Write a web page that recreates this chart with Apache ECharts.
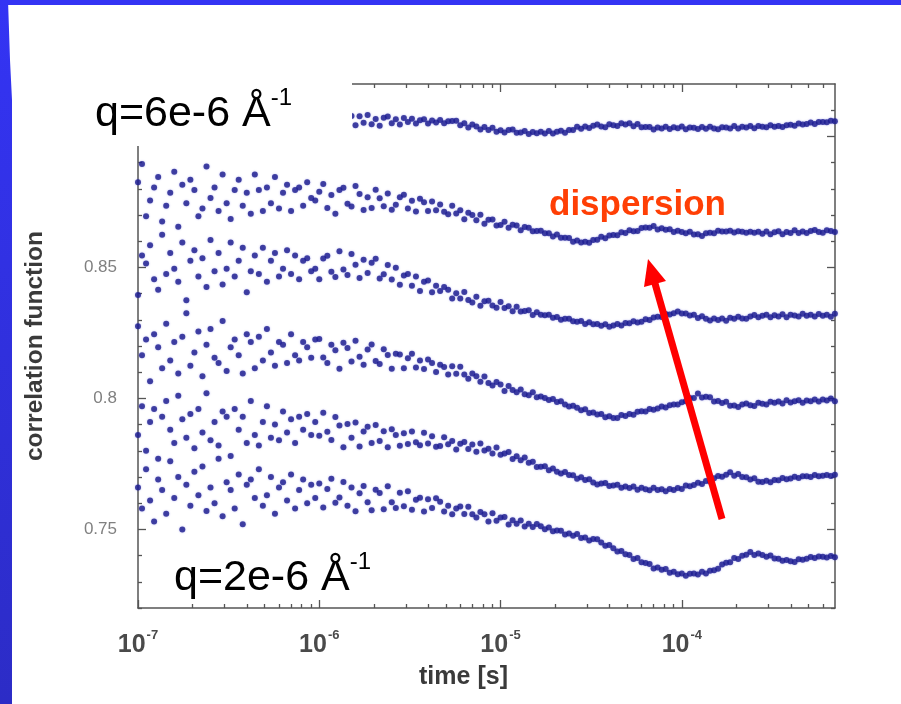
<!DOCTYPE html>
<html><head><meta charset="utf-8">
<script src="https://cdn.jsdelivr.net/npm/echarts@6/dist/echarts.min.js"></script>
<style>html,body{margin:0;padding:0;background:#fff}#c{width:901px;height:704px}</style>
</head><body><div id="c"></div>
<script>
// lag times (s)
const times = [
1e-7,1.052e-7,1.108e-7,1.166e-7,1.227e-7,1.292e-7,1.359e-7,1.431e-7,1.506e-7,1.585e-7,1.668e-7,1.756e-7,1.848e-7,1.945e-7,2.047e-7,2.154e-7,2.268e-7,2.387e-7,2.512e-7,2.644e-7,2.783e-7,2.929e-7,3.083e-7,3.245e-7,3.415e-7,3.594e-7,3.783e-7,3.981e-7,4.19e-7,4.41e-7,4.642e-7,4.885e-7,5.142e-7,5.412e-7,5.696e-7,5.995e-7,6.31e-7,6.641e-7,6.989e-7,7.356e-7,7.743e-7,8.149e-7,8.577e-7,9.027e-7,9.501e-7,
1e-6,1.052e-6,1.108e-6,1.166e-6,1.227e-6,1.292e-6,1.359e-6,1.431e-6,1.506e-6,1.585e-6,1.668e-6,1.756e-6,1.848e-6,1.945e-6,2.047e-6,2.154e-6,2.268e-6,2.387e-6,2.512e-6,2.644e-6,2.783e-6,2.929e-6,3.083e-6,3.245e-6,3.415e-6,3.594e-6,3.783e-6,3.981e-6,4.19e-6,4.41e-6,4.642e-6,4.885e-6,5.142e-6,5.412e-6,5.696e-6,5.995e-6,6.31e-6,6.641e-6,6.989e-6,7.356e-6,7.743e-6,8.149e-6,8.577e-6,9.027e-6,9.501e-6,
1e-5,1.052e-5,1.108e-5,1.166e-5,1.227e-5,1.292e-5,1.359e-5,1.431e-5,1.506e-5,1.585e-5,1.668e-5,1.756e-5,1.848e-5,1.945e-5,2.047e-5,2.154e-5,2.268e-5,2.387e-5,2.512e-5,2.644e-5,2.783e-5,2.929e-5,3.083e-5,3.245e-5,3.415e-5,3.594e-5,3.783e-5,3.981e-5,4.19e-5,4.41e-5,4.642e-5,4.885e-5,5.142e-5,5.412e-5,5.696e-5,5.995e-5,6.31e-5,6.641e-5,6.989e-5,7.356e-5,7.743e-5,8.149e-5,8.577e-5,9.027e-5,9.501e-5,
1e-4,1.052e-4,1.108e-4,1.166e-4,1.227e-4,1.292e-4,1.359e-4,1.431e-4,1.506e-4,1.585e-4,1.668e-4,1.756e-4,1.848e-4,1.945e-4,2.047e-4,2.154e-4,2.268e-4,2.387e-4,2.512e-4,2.644e-4,2.783e-4,2.929e-4,3.083e-4,3.245e-4,3.415e-4,3.594e-4,3.783e-4,3.981e-4,4.19e-4,4.41e-4,4.642e-4,4.885e-4,5.142e-4,5.412e-4,5.696e-4,5.995e-4,6.31e-4,6.641e-4,6.989e-4
];
// correlation function, q = 6e-6 (top) ... q = 2e-6 (bottom)
const g_q1 = [
.9077,.9050,.9100,.9060,.9033,.9087,.9073,.9043,.9110,.9063,
.9090,.9023,.9080,.9053,.9097,.9067,.9103,.9047,.9077,.9057,
.9113,.9040,.9083,.9073,.9050,.9093,.9030,.9080,.9087,.9063,
.9100,.9053,.9067,.9090,.9043,.9077,.9083,.9060,.9093,.9050,
.9073,.9087,.9057,.9080,.9063,.9088,.9043,.9078,.9097,.9051,
.9060,.9089,.9044,.9078,.9043,.9077,.9052,.9082,.9046,.9066,
.9041,.9071,.9076,.9050,.9065,.9045,.9070,.9055,.9067,.9049,
.9062,.9065,.9049,.9061,.9053,.9063,.9050,.9058,.9059,.9060,
.9043,.9050,.9034,.9045,.9038,.9026,.9036,.9024,.9033,.9018,
.9023,.9015,.9024,.9026,.9014,.9015,.9021,.9009,.9017,.9012,
.9018,.9011,.9021,.9011,.9018,.9022,.9014,.9024,.9024,.9037,
.9029,.9038,.9032,.9041,.9045,.9038,.9035,.9046,.9043,.9040,
.9050,.9045,.9050,.9039,.9047,.9035,.9036,.9036,.9026,.9034,
.9030,.9037,.9028,.9035,.9031,.9038,.9027,.9034,.9033,.9028,
.9036,.9029,.9037,.9030,.9027,.9035,.9034,.9030,.9040,.9030,
.9037,.9034,.9040,.9031,.9040,.9037,.9035,.9043,.9037,.9040,
.9036,.9043,.9044,.9041,.9049,.9045,.9047,.9053,.9047,.9055,
.9055,.9054,.9060,.9058];
const g_q2 = [
.8825,.8895,.8695,.8755,.8805,.8845,.8675,.8735,.8785,.8865,
.8655,.8815,.8745,.8835,.8795,.8695,.8725,.8885,.8765,.8805,
.8715,.8855,.8745,.8685,.8795,.8835,.8735,.8785,.8705,.8855,
.8795,.8715,.8805,.8745,.8845,.8725,.8785,.8815,.8715,.8795,
.8805,.8735,.8825,.8765,.8755,.8789,.8818,.8727,.8776,.8705,
.8795,.8804,.8743,.8732,.8811,.8780,.8719,.8768,.8727,.8796,
.8764,.8733,.8782,.8720,.8739,.8768,.8777,.8725,.8754,.8713,
.8762,.8749,.8715,.8752,.8718,.8740,.8712,.8703,.8735,.8706,
.8718,.8684,.8709,.8700,.8680,.8701,.8667,.8682,.8683,.8660,
.8662,.8674,.8651,.8663,.8660,.8642,.8654,.8651,.8638,.8639,
.8640,.8630,.8630,.8618,.8626,.8613,.8613,.8612,.8598,.8603,
.8595,.8598,.8594,.8605,.8606,.8617,.8611,.8622,.8624,.8623,
.8634,.8631,.8642,.8638,.8639,.8650,.8652,.8651,.8658,.8645,
.8649,.8644,.8646,.8635,.8640,.8635,.8630,.8636,.8626,.8627,
.8620,.8630,.8632,.8630,.8640,.8637,.8637,.8640,.8633,.8638,
.8636,.8632,.8636,.8632,.8636,.8628,.8637,.8627,.8634,.8638,
.8627,.8635,.8631,.8642,.8631,.8637,.8631,.8639,.8643,.8635,
.8632,.8642,.8639,.8635];
const g_q3 = [
.8395,.8545,.8515,.8585,.8455,.8415,.8625,.8475,.8555,.8495,
.8445,.8595,.8375,.8525,.8565,.8465,.8535,.8425,.8605,.8485,
.8555,.8435,.8495,.8595,.8465,.8525,.8575,.8405,.8485,.8545,
.8475,.8575,.8445,.8525,.8555,.8465,.8495,.8565,.8475,.8545,
.8455,.8525,.8535,.8485,.8495,.8455,.8534,.8544,.8483,.8463,
.8562,.8492,.8471,.8551,.8510,.8460,.8529,.8479,.8518,.8533,
.8458,.8474,.8509,.8454,.8499,.8434,.8469,.8475,.8430,.8465,
.8410,.8445,.8450,.8405,.8430,.8410,.8425,.8415,.8381,.8401,
.8381,.8406,.8376,.8366,.8388,.8354,.8371,.8373,.8355,.8346,
.8368,.8345,.8352,.8333,.8350,.8332,.8334,.8336,.8318,.8329,
.8319,.8317,.8319,.8308,.8311,.8300,.8304,.8304,.8294,.8293,
.8295,.8284,.8291,.8283,.8284,.8277,.8283,.8273,.8278,.8284,
.8278,.8288,.8287,.8294,.8290,.8293,.8302,.8299,.8309,.8312,
.8311,.8322,.8320,.8325,.8332,.8324,.8324,.8316,.8319,.8307,
.8314,.8304,.8297,.8305,.8299,.8305,.8296,.8308,.8304,.8312,
.8305,.8304,.8313,.8318,.8310,.8315,.8319,.8310,.8317,.8313,
.8321,.8310,.8319,.8316,.8313,.8323,.8315,.8319,.8313,.8322,
.8315,.8319,.8312,.8323];
const g_q4 = [
.8275,.8165,.8225,.8065,.8245,.8195,.8115,.8285,.8145,.8215,
.8095,.8235,.8325,.8125,.8175,.8255,.8085,.8205,.8265,.8155,
.8135,.8295,.8105,.8195,.8225,.8165,.8095,.8245,.8215,.8115,
.8235,.8145,.8265,.8175,.8125,.8215,.8205,.8135,.8245,.8165,
.8145,.8215,.8195,.8155,.8225,.8227,.8156,.8135,.8205,.8184,
.8113,.8212,.8192,.8141,.8220,.8159,.8128,.8187,.8206,.8143,
.8131,.8188,.8166,.8113,.8170,.8168,.8115,.8153,.8170,.8118,
.8145,.8112,.8148,.8135,.8101,.8128,.8120,.8091,.8123,.8094,
.8121,.8091,.8075,.8095,.8085,.8064,.8084,.8059,.8049,.8063,
.8053,.8028,.8047,.8032,.8023,.8034,.8016,.8012,.8023,.8004,
.8007,.8002,.7994,.7998,.7986,.7989,.7977,.7969,.7972,.7964,
.7955,.7959,.7944,.7946,.7939,.7940,.7928,.7932,.7925,.7925,
.7937,.7933,.7940,.7938,.7949,.7951,.7950,.7960,.7957,.7961,
.7969,.7965,.7974,.7977,.7977,.7985,.7989,.8002,.8002,.8019,
.8003,.8006,.8004,.7988,.7990,.7982,.7987,.7972,.7973,.7967,
.7977,.7981,.7974,.7971,.7983,.7980,.7977,.7987,.7983,.7988,
.7981,.7993,.7984,.7989,.7993,.7983,.7992,.7989,.7996,.7988,
.7996,.7992,.8000,.7989];
const g_q5 = [
.786,.797,.780,.791,.796,.777,.793,.799,.788,.783,
.801,.792,.785,.794,.781,.796,.787,.802,.784,.791,
.782,.795,.793,.778,.796,.788,.793,.783,.799,.786,
.782,.791,.797,.785,.790,.784,.795,.787,.792,.783,
.793,.788,.794,.786,.791,.7857,.7945,.7873,.7841,.7929,
.7897,.7814,.7902,.7850,.7908,.7816,.7874,.7892,.7830,.7898,
.7837,.7875,.7814,.7882,.7860,.7819,.7867,.7826,.7874,.7833,
.7821,.7869,.7828,.7856,.7815,.7818,.7852,.7825,.7837,.7805,
.7827,.7834,.7807,.7824,.7796,.7828,.7801,.7808,.7790,.7813,
.7785,.7790,.7795,.7769,.7779,.7764,.7774,.7754,.7758,.7738,
.7739,.7741,.7726,.7732,.7720,.7713,.7719,.7708,.7707,.7693,
.7699,.7689,.7691,.7679,.7671,.7675,.7677,.7666,.7668,.7670,
.7659,.7664,.7658,.7664,.7651,.7659,.7653,.7649,.7659,.7650,
.7653,.7646,.7654,.7650,.7658,.7654,.7668,.7665,.7669,.7678,
.7673,.7685,.7683,.7695,.7704,.7701,.7709,.7718,.7705,.7711,
.7700,.7699,.7690,.7695,.7682,.7681,.7686,.7680,.7689,.7688,
.7696,.7691,.7694,.7701,.7696,.7703,.7703,.7700,.7708,.7703,
.7705,.7708,.7704,.7709];
const g_q6 = [
.766,.758,.773,.761,.753,.769,.765,.756,.776,.762,
.770,.750,.767,.759,.772,.763,.774,.757,.766,.760,
.777,.755,.768,.765,.758,.771,.752,.767,.769,.762,
.773,.759,.763,.770,.756,.766,.768,.761,.771,.758,
.765,.769,.760,.767,.762,.7675,.7584,.7654,.7693,.7602,
.7622,.7681,.7590,.7660,.7569,.7638,.7666,.7604,.7573,.7651,
.7639,.7577,.7665,.7604,.7582,.7640,.7588,.7646,.7575,.7613,
.7621,.7568,.7615,.7582,.7619,.7606,.7568,.7590,.7558,.7580,
.7587,.7559,.7586,.7558,.7545,.7566,.7558,.7530,.7562,.7533,
.7545,.7547,.7519,.7535,.7522,.7534,.7511,.7522,.7509,.7521,
.7512,.7501,.7507,.7493,.7496,.7495,.7481,.7484,.7476,.7482,
.7467,.7469,.7458,.7463,.7462,.7450,.7438,.7440,.7428,.7416,
.7418,.7405,.7402,.7387,.7391,.7375,.7372,.7368,.7351,.7355,
.7346,.7349,.7335,.7338,.7329,.7332,.7323,.7331,.7332,.7328,
.7338,.7332,.7342,.7344,.7350,.7366,.7373,.7375,.7391,.7387,
.7399,.7403,.7414,.7402,.7408,.7402,.7396,.7400,.7389,.7388,
.7380,.7383,.7378,.7376,.7386,.7384,.7388,.7395,.7391,.7397,
.7396,.7393,.7398,.7394];

const xMajorTicks = [1e-7, 1e-6, 1e-5, 1e-4];
const xMinorTicks = [2e-7,3e-7,4e-7,5e-7,6e-7,7e-7,8e-7,9e-7,
  2e-6,3e-6,4e-6,5e-6,6e-6,7e-6,8e-6,9e-6,
  2e-5,3e-5,4e-5,5e-5,6e-5,7e-5,8e-5,9e-5,
  2e-4,3e-4,4e-4,5e-4,6e-4];
const yMajorTicks = [0.75, 0.8, 0.85, 0.9];
const yMinorTicks = [0.72,0.73,0.74,0.76,0.77,0.78,0.79,0.81,0.82,0.83,0.84,0.86,0.87,0.88,0.89,0.91];

const allSeries = [g_q1, g_q2, g_q3, g_q4, g_q5, g_q6];

const SANS = "'Liberation Sans', Arial, Helvetica, sans-serif";
const AX = '#555';
const X_MIN = 1e-7, X_MAX = 7e-4, Y_MIN = 0.72, Y_MAX = 0.92;

function xAxisDef(pos, ticks, len, showLine, showLabel) {
  return {
    type: 'log', logBase: 10, min: X_MIN, max: X_MAX, position: pos,
    axisLine: {show: showLine, onZero: false, lineStyle: {color: AX, width: 1.5}},
    axisTick: {show: true, inside: true, length: len, customValues: ticks, lineStyle: {color: AX, width: 1.3}},
    minorTick: {show: false},
    splitLine: {show: false},
    axisLabel: showLabel ? {
      customValues: xMajorTicks, margin: 20,
      formatter: v => '{b|10}{s|' + Math.round(Math.log10(v)) + '}',
      rich: {
        b: {fontSize: 25, fontWeight: 'bold', color: '#4a4a4a', fontFamily: SANS, verticalAlign: 'bottom', lineHeight: 30},
        s: {fontSize: 13, fontWeight: 'bold', color: '#4a4a4a', fontFamily: SANS, verticalAlign: 'top', padding: [1, 0, 0, 1]}
      }
    } : {show: false}
  };
}
function yAxisDef(pos, ticks, len, showLine, showLabel) {
  return {
    type: 'value', min: Y_MIN, max: Y_MAX, position: pos,
    axisLine: {show: showLine, onZero: false, lineStyle: {color: AX, width: 1.5}},
    axisTick: {show: true, inside: true, length: len, customValues: ticks, lineStyle: {color: AX, width: 1.3}},
    splitLine: {show: false},
    axisLabel: showLabel ? {customValues: yMajorTicks, margin: 21, fontSize: 17, color: '#808080', fontFamily: SANS} : {show: false}
  };
}

const xAxes = [xAxisDef('bottom', xMajorTicks, 8, true, true),
  xAxisDef('bottom', xMinorTicks, 4, false, false),
  xAxisDef('top', xMajorTicks, 8, true, false),
  xAxisDef('top', xMinorTicks, 4, false, false)];
xAxes[0].name = 'time [s]';
xAxes[0].nameLocation = 'middle';
xAxes[0].nameGap = 57;
xAxes[0].nameTextStyle = {fontSize: 25, fontWeight: 'bold', color: '#3a3a3a', fontFamily: SANS, padding: [0, 46, 0, 0]};

const yAxes = [yAxisDef('left', yMajorTicks, 8, true, true),
  yAxisDef('left', yMinorTicks, 4, false, false),
  yAxisDef('right', yMajorTicks, 8, true, false),
  yAxisDef('right', yMinorTicks, 4, false, false)];
yAxes[0].name = 'correlation function';
yAxes[0].nameLocation = 'middle';
yAxes[0].nameRotate = 90;
yAxes[0].nameGap = 90;
yAxes[0].nameTextStyle = {fontSize: 24.5, fontWeight: 'bold', color: '#3a3a3a', fontFamily: SANS};

const series = allSeries.map((vals, k) => ({
  type: 'scatter', name: 'q' + k, xAxisIndex: 0, yAxisIndex: 0,
  symbol: 'circle', symbolSize: 6,
  itemStyle: {color: '#1c1c8c', shadowBlur: 2, shadowColor: 'rgba(60,60,220,0.45)'},
  data: times.map((t, i) => [t, vals[i]]),
  z: 5
}));

const blueGrad = {type: 'linear', x: 0, y: 0, x2: 0, y2: 1, colorStops: [{offset: 0, color: '#3434f4'}, {offset: 1, color: '#2c2cc6'}]};
const QFONT = "'Liberation Sans', Arial, sans-serif";

const chart = echarts.init(document.getElementById('c'), null, {renderer: 'canvas'});
chart.setOption({
  animation: false,
  backgroundColor: '#ffffff',
  grid: {left: 138, right: 66, top: 84, bottom: 96},
  xAxis: xAxes,
  yAxis: yAxes,
  series: series,
  graphic: [
    {type: 'rect', z: 100, shape: {x: 0, y: 0, width: 901, height: 5}, style: {fill: '#3434f4'}},
    {type: 'polygon', z: 100, shape: {points: [[0, 0], [8, 0], [10, 60], [12, 100], [12, 704], [0, 704]]}, style: {fill: blueGrad}},
    {type: 'rect', z: 100, shape: {x: 75, y: 68, width: 277, height: 78}, style: {fill: '#ffffff'}},
    {type: 'text', z: 101, x: 95, y: 86, style: {
      text: '{m|q=6e-6 Å}{s|-1}', verticalAlign: 'top',
      rich: {m: {fontSize: 43, fontFamily: QFONT, fill: '#000', verticalAlign: 'bottom', lineHeight: 50},
             s: {fontSize: 24, fontFamily: QFONT, fill: '#000', verticalAlign: 'top'}}}},
    {type: 'text', z: 101, x: 174, y: 550, style: {
      text: '{m|q=2e-6 Å}{s|-1}', verticalAlign: 'top',
      rich: {m: {fontSize: 43, fontFamily: QFONT, fill: '#000', verticalAlign: 'bottom', lineHeight: 50},
             s: {fontSize: 24, fontFamily: QFONT, fill: '#000', verticalAlign: 'top'}}}},
    {type: 'text', z: 101, x: 549, y: 205, style: {
      text: 'dispersion', fontSize: 35, fontWeight: 'bold', fontFamily: SANS, fill: '#ff3f05', verticalAlign: 'middle'}},
    {type: 'line', z: 101, shape: {x1: 722, y1: 519, x2: 654, y2: 280}, style: {stroke: '#ff0000', lineWidth: 7}},
    {type: 'polygon', z: 101, shape: {points: [[648, 259], [666, 281], [644, 287]]}, style: {fill: '#ff0000'}}
  ]
});
</script>
</body></html>
